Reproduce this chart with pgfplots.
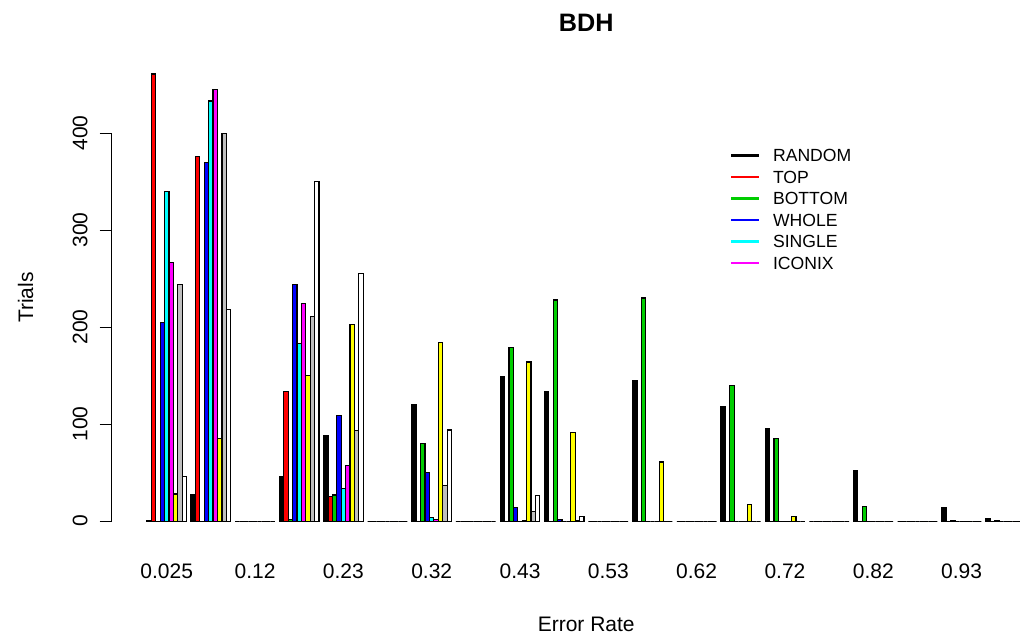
\documentclass[border=0pt]{standalone}
\usepackage{fontspec}
\setmainfont{Liberation Sans}
\usepackage{pgfplots}
\usepackage{pgfplotstable}
\pgfplotsset{compat=1.18}
\definecolor{rblack}{HTML}{000000}
\definecolor{rred}{HTML}{FF0000}
\definecolor{rgreen}{HTML}{00CD00}
\definecolor{rblue}{HTML}{0000FF}
\definecolor{rcyan}{HTML}{00FFFF}
\definecolor{rmagenta}{HTML}{FF00FF}
\definecolor{ryellow}{HTML}{FFFF00}
\definecolor{rgrey}{HTML}{BEBEBE}
\definecolor{rwhite}{HTML}{FFFFFF}
\pgfplotstableread{
g R T B W S I Y G H
1 1 461 0 205 340 267 28 244 46
2 27 376 0 370 433 445 85 400 218
3 0 0 0 0 0 0 0 0 0
4 46 134 2 244 183 224 150 211 350
5 88 25 27 109 34 57 203 93 255
6 0 0 0 0 0 0 0 0 0
7 120 0 80 50 4 2 184 37 94
8 0 0 0 0 0 0 0 0 0
9 149 0 179 14 0 1 164 10 26
10 133 0 228 2 0 0 91 1 5
11 0 0 0 0 0 0 0 0 0
12 145 0 230 0 0 0 61 0 0
13 0 0 0 0 0 0 0 0 0
14 118 0 140 0 0 0 17 0 0
15 95 0 85 0 0 0 5 0 0
16 0 0 0 0 0 0 0 0 0
17 52 0 15 0 0 0 0 0 0
18 0 0 0 0 0 0 0 0 0
19 14 0 1 0 0 0 0 0 0
20 3 0 1 0 0 0 0 0 0
}\data
\begin{document}
\begin{tikzpicture}
\begin{axis}[
  at={(55.85pt,51pt)}, anchor=south west,
  x=2.208pt, y=0.485pt,
  xmin=-6.96, xmax=207.96, ymin=-18.44, ymax=479.44,
  axis lines=left, axis line style={draw=none,-},
  clip=false,
  xtick={5.5,25.5,45.5,65.5,85.5,105.5,125.5,145.5,165.5,185.5},
  xticklabels={0.025,0.12,0.23,0.32,0.43,0.53,0.62,0.72,0.82,0.93},
  x tick style={draw=none},
  ytick={0,100,200,300,400},
  y tick style={line width=0.6pt, black},
  tick align=outside, major tick length=6pt,
  /pgf/number format/assume math mode=true,
  tick label style={font=\fontsize{10.5}{12}\selectfont},
  xticklabel style={anchor=north, inner sep=0pt, yshift=-6pt},
  yticklabel style={xshift=-5.85pt, rotate=90, anchor=south, inner sep=0pt},
  title={BDH},
  every axis title/.style={at={(axis description cs:0.5,1.0504)}, anchor=base, font=\fontsize{12.6}{14}\selectfont\bfseries, inner sep=0pt},
  xlabel={Error Rate},
  xlabel style={at={(axis description cs:0.5,-0.1919)}, anchor=base, font=\fontsize{10.5}{12}\selectfont, inner sep=0pt},
  ylabel={Trials},
  ylabel style={at={(axis description cs:-0.0829,0.5)}, anchor=base, font=\fontsize{10.5}{12}\selectfont, inner sep=0pt},
  legend image code/.code={\draw[#1, line width=1.25pt] (0pt,0pt) -- (14pt,0pt);},
  legend style={draw=none, fill=none, inner sep=0pt, outer sep=0pt,
    at={(axis description cs:0.6512,0.8076)}, anchor=north west,
    font=\fontsize{8.8}{10}\selectfont, row sep=4.45pt,
    nodes={inner sep=0pt, text height=6.3pt, text depth=0pt},
    /tikz/every odd column/.style={column sep=6.4pt}},
  legend cell align=left,
]
\addplot[ybar, bar width=1, bar shift=0, fill=rblack, draw=black, line width=0.6pt, forget plot] table[x expr=(\thisrow{g}-1)*10+1.5, y=R] {\data};
\addplot[ybar, bar width=1, bar shift=0, fill=rred, draw=black, line width=0.6pt, forget plot] table[x expr=(\thisrow{g}-1)*10+2.5, y=T] {\data};
\addplot[ybar, bar width=1, bar shift=0, fill=rgreen, draw=black, line width=0.6pt, forget plot] table[x expr=(\thisrow{g}-1)*10+3.5, y=B] {\data};
\addplot[ybar, bar width=1, bar shift=0, fill=rblue, draw=black, line width=0.6pt, forget plot] table[x expr=(\thisrow{g}-1)*10+4.5, y=W] {\data};
\addplot[ybar, bar width=1, bar shift=0, fill=rcyan, draw=black, line width=0.6pt, forget plot] table[x expr=(\thisrow{g}-1)*10+5.5, y=S] {\data};
\addplot[ybar, bar width=1, bar shift=0, fill=rmagenta, draw=black, line width=0.6pt, forget plot] table[x expr=(\thisrow{g}-1)*10+6.5, y=I] {\data};
\addplot[ybar, bar width=1, bar shift=0, fill=ryellow, draw=black, line width=0.6pt, forget plot] table[x expr=(\thisrow{g}-1)*10+7.5, y=Y] {\data};
\addplot[ybar, bar width=1, bar shift=0, fill=rgrey, draw=black, line width=0.6pt, forget plot] table[x expr=(\thisrow{g}-1)*10+8.5, y=G] {\data};
\addplot[ybar, bar width=1, bar shift=0, fill=rwhite, draw=black, line width=0.6pt, forget plot] table[x expr=(\thisrow{g}-1)*10+9.5, y=H] {\data};
\draw[line width=0.6pt] (axis cs:-6.96,0) -- (axis cs:-6.96,400);
\addlegendimage{draw=rblack}\addlegendentry{RANDOM}
\addlegendimage{draw=rred}\addlegendentry{TOP}
\addlegendimage{draw=rgreen}\addlegendentry{BOTTOM}
\addlegendimage{draw=rblue}\addlegendentry{WHOLE}
\addlegendimage{draw=rcyan}\addlegendentry{SINGLE}
\addlegendimage{draw=rmagenta}\addlegendentry{ICONIX}
\end{axis}
\pgfresetboundingbox
\useasboundingbox (0,0) rectangle (510pt,320.5pt);
\end{tikzpicture}
\end{document}
